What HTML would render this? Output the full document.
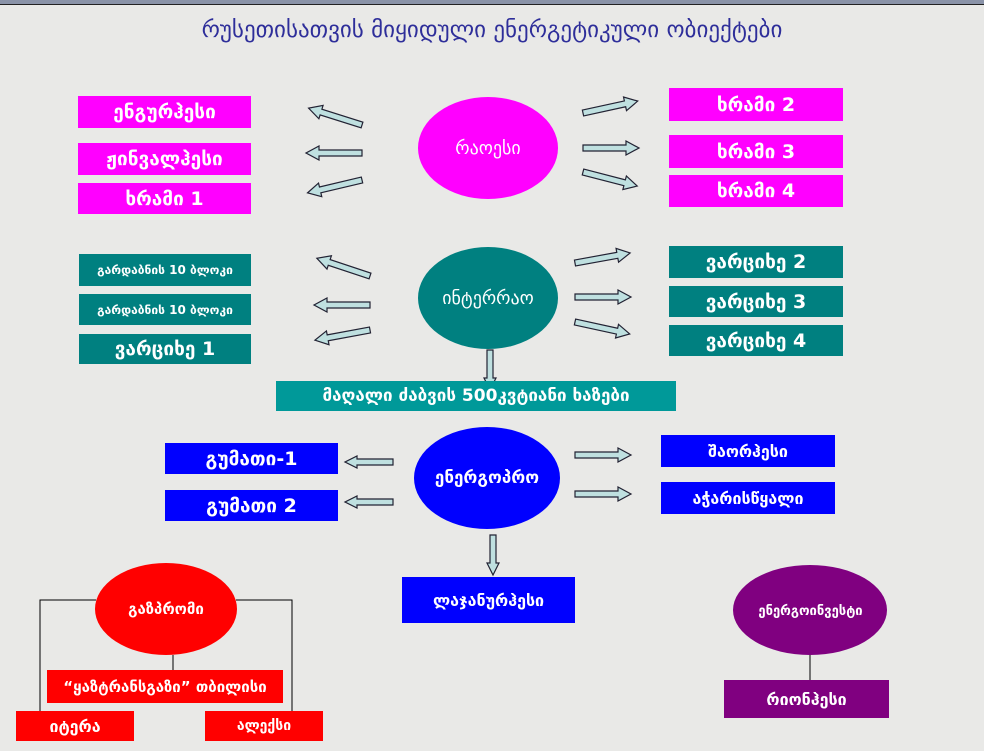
<!DOCTYPE html>
<html><head><meta charset="utf-8"><style>
body{margin:0;width:984px;height:751px;overflow:hidden;background:#e9e9e7;position:relative;font-family:"DejaVu Sans","Liberation Sans",sans-serif}
.b{position:absolute;color:#fff;display:flex;align-items:center;justify-content:center;font-size:19px;font-weight:bold;white-space:nowrap;overflow:hidden}
.m{background:#ff00ff}.t{background:#008080}.bl{background:#0000ff}.r{background:#ff0000}.p{background:#800080}
svg{position:absolute;left:0;top:0}
</style></head><body>
<div style="position:absolute;left:0;top:0;width:984px;height:4px;background:#8a93a8;border-bottom:1px solid #222"></div>
<div style="position:absolute;left:0;top:17px;width:984px;text-align:center;color:#2e2e9a;font-size:23px;">რუსეთისათვის მიყიდული ენერგეტიკული ობიექტები</div>
<svg width="984" height="751">
<defs>
<polygon id="a56" points="0,-3 43,-3 43,-7 56,0 43,7 43,3 0,3" fill="#bfe0e0" stroke="#223" stroke-width="1.2"/>
<polygon id="a48" points="0,-3 36,-3 36,-6 48,0 36,6 36,3 0,3" fill="#bfe0e0" stroke="#223" stroke-width="1.2"/>
<polygon id="a40" points="0,-3 28,-3 28,-6 40,0 28,6 28,3 0,3" fill="#bfe0e0" stroke="#223" stroke-width="1.2"/>
</defs>
<ellipse cx="488" cy="148" rx="70" ry="51" fill="#ff00ff"/>
<ellipse cx="488" cy="298" rx="70" ry="51" fill="#008080"/>
<ellipse cx="487" cy="478" rx="73" ry="51" fill="#0000ff"/>
<ellipse cx="166" cy="609" rx="71" ry="46" fill="#ff0000"/>
<ellipse cx="810" cy="610" rx="77" ry="45" fill="#800080"/>
<g fill="none" stroke="#000" stroke-width="1">
<polyline points="40,711 40,600 96,600"/><polyline points="236,600 292,600 292,711"/>
<line x1="173" y1="655" x2="173" y2="670"/><line x1="810" y1="655" x2="810" y2="680"/>
</g>
<use href="#a56" transform="translate(362,125) rotate(197.5)"/>
<use href="#a56" transform="translate(362,153) rotate(180)"/>
<use href="#a56" transform="translate(362,180) rotate(166.7)"/>
<use href="#a56" transform="translate(583,113) rotate(-12.3)"/>
<use href="#a56" transform="translate(583,148)"/>
<use href="#a56" transform="translate(583,172) rotate(14.5)"/>
<use href="#a56" transform="translate(370,276) rotate(198.4)"/>
<use href="#a56" transform="translate(370,305) rotate(180)"/>
<use href="#a56" transform="translate(370,330) rotate(169.5)"/>
<use href="#a56" transform="translate(575,263) rotate(-10.3)"/>
<use href="#a56" transform="translate(575,297)"/>
<use href="#a56" transform="translate(575,322) rotate(12.3)"/>
<use href="#a48" transform="translate(393,462) rotate(180)"/>
<use href="#a48" transform="translate(393,502) rotate(180)"/>
<use href="#a56" transform="translate(575,455)"/>
<use href="#a56" transform="translate(575,494)"/>
<use href="#a40" transform="translate(490,350) rotate(90)"/>
<use href="#a40" transform="translate(493,535) rotate(90)"/>
</svg>
<div class="b m" style="left:78px;top:96px;width:173px;height:32px">ენგურჰესი</div>
<div class="b m" style="left:78px;top:143px;width:173px;height:32px">ჟინვალჰესი</div>
<div class="b m" style="left:78px;top:183px;width:173px;height:31px">ხრამი 1</div>
<div class="b m" style="left:669px;top:88px;width:174px;height:33px">ხრამი 2</div>
<div class="b m" style="left:669px;top:135px;width:174px;height:33px">ხრამი 3</div>
<div class="b m" style="left:669px;top:175px;width:174px;height:32px">ხრამი 4</div>
<div class="b t" style="left:79px;top:254px;width:172px;height:32px;font-size:12px">გარდაბნის 10 ბლოკი</div>
<div class="b t" style="left:79px;top:294px;width:172px;height:31px;font-size:12px">გარდაბნის 10 ბლოკი</div>
<div class="b t" style="left:79px;top:334px;width:172px;height:30px">ვარციხე 1</div>
<div class="b t" style="left:669px;top:246px;width:174px;height:32px">ვარციხე 2</div>
<div class="b t" style="left:669px;top:286px;width:174px;height:31px">ვარციხე 3</div>
<div class="b t" style="left:669px;top:325px;width:174px;height:31px">ვარციხე 4</div>
<div class="b" style="left:418px;top:128px;width:140px;height:40px;font-size:18px;font-weight:normal">რაოესი</div>
<div class="b" style="left:418px;top:278px;width:140px;height:40px;font-size:18px;font-weight:normal">ინტერრაო</div>
<div class="b" style="left:414px;top:458px;width:146px;height:40px;font-size:17px">ენერგოპრო</div>
<div class="b" style="left:276px;top:381px;width:400px;height:30px;background:#009999;font-size:17px">მაღალი ძაბვის 500კვტიანი ხაზები</div>
<div class="b bl" style="left:165px;top:443px;width:173px;height:31px">გუმათი-1</div>
<div class="b bl" style="left:165px;top:490px;width:173px;height:31px">გუმათი 2</div>
<div class="b bl" style="left:661px;top:435px;width:174px;height:32px;font-size:16px">შაორჰესი</div>
<div class="b bl" style="left:661px;top:482px;width:174px;height:32px;font-size:16px">აჭარისწყალი</div>
<div class="b bl" style="left:402px;top:577px;width:173px;height:46px;font-size:16px">ლაჯანურჰესი</div>
<div class="b" style="left:95px;top:592px;width:142px;height:34px;font-size:15px">გაზპრომი</div>
<div class="b r" style="left:47px;top:670px;width:236px;height:33px;font-size:15px">“ყაზტრანსგაზი” თბილისი</div>
<div class="b r" style="left:16px;top:711px;width:118px;height:30px;font-size:16px">იტერა</div>
<div class="b r" style="left:205px;top:711px;width:118px;height:30px;font-size:14px">ალექსი</div>
<div class="b" style="left:733px;top:594px;width:155px;height:34px;font-size:13px">ენერგოინვესტი</div>
<div class="b p" style="left:724px;top:680px;width:165px;height:38px;font-size:16px">რიონჰესი</div>
</body></html>
